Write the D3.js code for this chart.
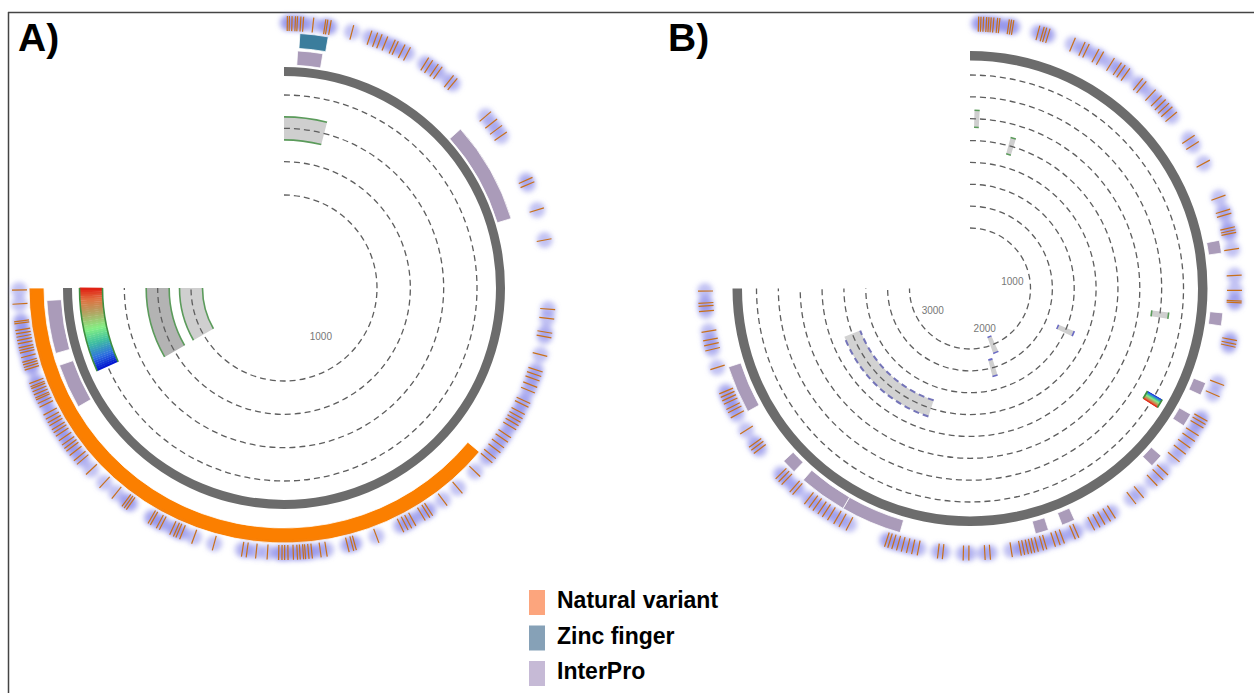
<!DOCTYPE html>
<html>
<head>
<meta charset="utf-8">
<script src="https://cdnjs.cloudflare.com/ajax/libs/d3/7.8.5/d3.min.js"></script>
<style>
  body { margin: 0; background: #fff; }
  svg { font-family: "Liberation Sans", Arial, sans-serif; }
</style>
</head>
<body>
<div id="chart"></div>
<script>
// Protein lengths (residues)
let lengthA = 1890;
let lengthB = 3375;

// Natural variant positions (outer ticks)
let variantsA = [5, 8, 12, 17, 20, 25, 29, 44, 62, 65, 70, 104, 132, 141, 148, 157, 169, 174, 185, 194,
  225, 232, 242, 249, 270, 277, 347, 361, 373, 385, 462, 469, 510, 557, 662, 676, 697, 704, 732, 756,
  763, 770, 780, 789, 806, 812, 824, 831, 837, 843, 850, 864, 872, 882, 891, 902, 910, 937, 973, 1002,
  1028, 1033, 1041, 1057, 1064, 1070, 1077, 1117, 1152, 1156, 1163, 1196, 1205, 1218, 1223, 1228, 1231,
  1236, 1240, 1246, 1254, 1259, 1263, 1268, 1285, 1302, 1316, 1323, 1367, 1399, 1418, 1424, 1428, 1434,
  1451, 1456, 1466, 1470, 1508, 1512, 1516, 1535, 1559, 1587, 1607, 1614, 1624, 1632, 1637, 1643, 1651,
  1659, 1665, 1670, 1677, 1682, 1688, 1695, 1708, 1714, 1720, 1723, 1728, 1733, 1738, 1741, 1746, 1767,
  1771, 1775, 1779, 1786, 1793, 1797, 1801, 1807, 1812, 1817, 1822, 1827, 1837, 1840, 1866, 1887];

let variantsB = [23, 29, 36, 44, 50, 56, 63, 73, 79, 104, 110, 116, 186, 198, 205, 214, 285, 313, 325,
  354, 368, 401, 423, 435, 450, 493, 505, 538, 560, 575, 588, 601, 619, 696, 716, 773, 874, 913, 924,
  961, 969, 976, 1019, 1090, 1130, 1158, 1163, 1263, 1273, 1281, 1386, 1418, 1490, 1500, 1511, 1535,
  1553, 1574, 1594, 1620, 1666, 1684, 1706, 1754, 1780, 1846, 1861, 1878, 1893, 1909, 1955, 1965, 1996,
  2008, 2021, 2045, 2054, 2068, 2078, 2086, 2095, 2105, 2114, 2138, 2196, 2210, 2253, 2268, 2323, 2336,
  2390, 2405, 2419, 2433, 2446, 2459, 2470, 2479, 2589, 2610, 2626, 2645, 2661, 2675, 2691, 2704, 2719,
  2759, 2769, 2798, 2809, 2820, 2908, 2919, 2929, 2971, 3020, 3035, 3045, 3060, 3070, 3080, 3090, 3158,
  3209, 3223, 3236, 3259, 3314, 3328, 3336, 3368];

// Feature regions [start, end]
let naturalVariantA = [[910, 1890]];
let zincFingerA = [[25, 70]];
let interproA = [[23, 66], [336, 511], [1680, 1757], [1778, 1869]];
let interproB = [[988, 1025], [1194, 1231], [1398, 1435], [1496, 1534], [1640, 1678], [1946, 1984],
  [2025, 2063], [2450, 2625], [2625, 2763], [2798, 2840], [3013, 3150]];

// Inner tracks (track 0 = innermost ring)
let innerA = [
  {track: 2, start: 0, end: 102, kind: "light"},
  {track: 1, start: 1680, end: 1890, kind: "dark"},
  {track: 0, start: 1680, end: 1890, kind: "light"},
  {track: 3, start: 1722, end: 1890, kind: "gradient"}
];
let innerB = [
  {track: 5, start: 18, end: 39, kind: "light"},
  {track: 4, start: 188, end: 213, kind: "light"},
  {track: 6, start: 1211, end: 1234, kind: "light"},
  {track: 2, start: 1403, end: 1438, kind: "blue"},
  {track: 0, start: 1946, end: 2004, kind: "blue"},
  {track: 1, start: 2029, end: 2071, kind: "blue"},
  {track: 7, start: 1500, end: 1530, kind: "gradient"},
  {track: 3, start: 2475, end: 3113, kind: "dashed"}
];

// Position labels
let axisTicksA = [1000];
let axisTicksB = [1000, 2000, 3000];

// Legend
let legendLabels = ["Natural variant", "Zinc finger", "InterPro"];
let legendColors = ["#fca57d", "#86a1b7", "#c6bad6"];

let svgWidth = 1254;
let svgHeight = 693;

let svg = d3.select("#chart")
  .append("svg")
  .attr("width", svgWidth)
  .attr("height", svgHeight);

// blur filter for the variant halos
svg.append("defs")
  .append("filter")
  .attr("id", "glow")
  .attr("x", "-10%").attr("y", "-10%")
  .attr("width", "120%").attr("height", "120%")
  .append("feGaussianBlur")
  .attr("stdDeviation", 2.8);

// frame
svg.append("line").attr("x1", 8).attr("x2", svgWidth).attr("y1", 12.5).attr("y2", 12.5)
  .attr("stroke", "#444").attr("stroke-width", 1.5);
svg.append("line").attr("x1", 8.5).attr("x2", 8.5).attr("y1", 12).attr("y2", svgHeight)
  .attr("stroke", "#444").attr("stroke-width", 1.5);

// colour for the conservation gradient (start -> end)
let gradColor = d3.scaleLinear()
  .domain([0, 0.15, 0.33, 0.5, 0.7, 0.86, 1])
  .range(["#0010d0", "#2f6fe0", "#40c0a0", "#84f084", "#b4a262", "#e07040", "#e01a10"]);

let bandFill = {light: "#cfcfcf", dark: "#b3b3b3", blue: "#cfcfcf", dashed: "#d2d2d2"};
let bandEdge = {light: "#5b9b5b", dark: "#5b9b5b", blue: "#6a6ac4", dashed: "#7474b8", gradient: "#3f8f3f"};

// arc path along a single radius
function arcLine(r, a0, a1) {
  let p = d3.path();
  p.arc(0, 0, r, a0 - Math.PI / 2, a1 - Math.PI / 2);
  return p.toString();
}

function drawPanel(cfg) {
  let g = svg.append("g").attr("transform", `translate(${cfg.cx}, ${cfg.cy})`);

  let angle = d3.scaleLinear().domain([0, cfg.length]).range([0, 1.5 * Math.PI]);
  let trackR = d3.scaleLinear().domain([0, cfg.nTracks - 1]).range(cfg.trackRange);
  let arc = d3.arc();

  // gray bands of the inner tracks
  let bands = cfg.inner.filter(d => d.kind !== "gradient");
  g.selectAll("path.band")
    .data(bands)
    .enter()
    .append("path")
    .attr("class", "band")
    .attr("d", d => arc({
      innerRadius: trackR(d.track) - cfg.bandHalf,
      outerRadius: trackR(d.track) + cfg.bandHalf,
      startAngle: angle(d.start),
      endAngle: angle(d.end)
    }))
    .attr("fill", d => bandFill[d.kind]);

  bands.forEach(function(d) {
    [-cfg.bandHalf, cfg.bandHalf].forEach(function(off) {
      g.append("path")
        .attr("d", arcLine(trackR(d.track) + off, angle(d.start), angle(d.end)))
        .attr("fill", "none")
        .attr("stroke", bandEdge[d.kind])
        .attr("stroke-width", d.kind === "dashed" ? 2 : 1.6)
        .attr("stroke-dasharray", d.kind === "dashed" ? "6,4" : null);
    });
  });

  // dashed track circles
  g.selectAll("path.grid")
    .data(d3.range(cfg.nTracks))
    .enter()
    .append("path")
    .attr("class", "grid")
    .attr("d", d => arcLine(trackR(d), 0, 1.5 * Math.PI))
    .attr("fill", "none")
    .attr("stroke", "#5e5e5e")
    .attr("stroke-width", 1.3)
    .attr("stroke-dasharray", "6,4");

  // gradient tracks, drawn in thin slices
  cfg.inner.filter(d => d.kind === "gradient").forEach(function(d) {
    let n = 40;
    let step = (d.end - d.start) / n;
    d3.range(n).forEach(function(i) {
      g.append("path")
        .attr("d", arc({
          innerRadius: trackR(d.track) - cfg.bandHalf,
          outerRadius: trackR(d.track) + cfg.bandHalf,
          startAngle: angle(d.start + i * step),
          endAngle: angle(d.start + (i + 1) * step) + 0.002
        }))
        .attr("fill", gradColor((i + 0.5) / n));
    });
    [-cfg.bandHalf, cfg.bandHalf].forEach(function(off) {
      g.append("path")
        .attr("d", arcLine(trackR(d.track) + off, angle(d.start), angle(d.end)))
        .attr("fill", "none")
        .attr("stroke", bandEdge.gradient)
        .attr("stroke-width", 1.6);
    });
  });

  // axis labels
  g.selectAll("text.pos")
    .data(cfg.axisTicks)
    .enter()
    .append("text")
    .attr("class", "pos")
    .attr("x", d => cfg.labelR * Math.sin(angle(d)))
    .attr("y", d => -cfg.labelR * Math.cos(angle(d)))
    .attr("dy", "0.35em")
    .attr("text-anchor", "middle")
    .attr("font-size", 10)
    .attr("fill", "#777")
    .text(d => d);

  // protein backbone
  g.append("path")
    .attr("d", arc({innerRadius: cfg.backbone[0], outerRadius: cfg.backbone[1],
      startAngle: 0, endAngle: angle(cfg.length)}))
    .attr("fill", "#6c6c6c");

  // feature regions
  function regions(data, radii, color) {
    g.append("g").selectAll("path")
      .data(data)
      .enter()
      .append("path")
      .attr("d", d => arc({innerRadius: radii[0], outerRadius: radii[1],
        startAngle: angle(d[0]), endAngle: angle(d[1])}))
      .attr("fill", color)
      .attr("stroke", "#fff")
      .attr("stroke-width", 0.8);
  }
  regions(cfg.interpro, cfg.interproR, "#aa9bb9");
  if (cfg.variantRegions) regions(cfg.variantRegions, cfg.featureR, "#fb7f00");
  if (cfg.zinc) regions(cfg.zinc, cfg.featureR, "#3b7d9c");

  // halos behind the variant ticks
  g.append("g")
    .attr("filter", "url(#glow)")
    .selectAll("circle")
    .data(cfg.variants)
    .enter()
    .append("circle")
    .attr("cx", d => cfg.haloR * Math.sin(angle(d)))
    .attr("cy", d => -cfg.haloR * Math.cos(angle(d)))
    .attr("r", 8)
    .attr("fill", "#9090ea")
    .attr("fill-opacity", 0.55);

  g.append("g").selectAll("line")
    .data(cfg.variants)
    .enter()
    .append("line")
    .attr("x1", d => cfg.tickR[0] * Math.sin(angle(d)))
    .attr("y1", d => -cfg.tickR[0] * Math.cos(angle(d)))
    .attr("x2", d => cfg.tickR[1] * Math.sin(angle(d)))
    .attr("y2", d => -cfg.tickR[1] * Math.cos(angle(d)))
    .attr("stroke", "#c8701a")
    .attr("stroke-width", 1.2);
}

drawPanel({
  cx: 284, cy: 288, length: lengthA, nTracks: 4, trackRange: [93, 193], bandHalf: 11.5,
  backbone: [212, 221], interproR: [223, 237.5], featureR: [240, 255], tickR: [257, 272], haloR: 265,
  labelR: 61, inner: innerA, axisTicks: axisTicksA, interpro: interproA,
  variantRegions: naturalVariantA, zinc: zincFingerA, variants: variantsA
});

drawPanel({
  cx: 970, cy: 288.5, length: lengthB, nTracks: 8, trackRange: [60.5, 213.5], bandHalf: 8.5,
  backbone: [228, 237.5], interproR: [241, 254], tickR: [257, 272], haloR: 265,
  labelR: 43, inner: innerB, axisTicks: axisTicksB, interpro: interproB, variants: variantsB
});

// panel titles
svg.append("text").attr("x", 18).attr("y", 51).attr("font-size", 39).attr("font-weight", "bold").text("A)");
svg.append("text").attr("x", 668).attr("y", 51).attr("font-size", 39).attr("font-weight", "bold").text("B)");

// legend
let legend = svg.append("g").attr("transform", "translate(529, 590)");
let rows = legend.selectAll("g")
  .data(legendLabels)
  .enter()
  .append("g")
  .attr("transform", (d, i) => `translate(0, ${i * 35.5})`);

rows.append("rect")
  .attr("width", 16)
  .attr("height", 25)
  .attr("fill", (d, i) => legendColors[i]);

rows.append("text")
  .attr("x", 28)
  .attr("y", 18)
  .attr("font-size", 23)
  .attr("font-weight", "bold")
  .text(d => d);
</script>
</body>
</html>
